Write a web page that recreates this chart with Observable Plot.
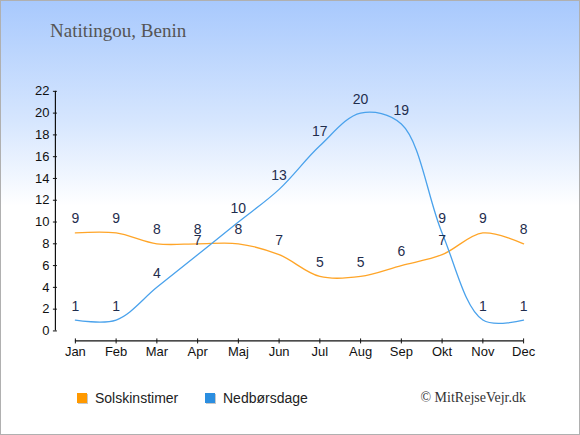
<!DOCTYPE html>
<html>
<head>
<meta charset="utf-8">
<script src="https://cdn.jsdelivr.net/npm/d3@7"></script>
<script src="https://cdn.jsdelivr.net/npm/@observablehq/plot@0.6"></script>
<style>
  html, body { margin: 0; padding: 0; background: #fff; }
  #wrap {
    position: relative; width: 580px; height: 435px; box-sizing: border-box;
    border: 1px solid #b0b0b0; overflow: hidden;
    background: linear-gradient(to bottom, #a8c9fd 0px, #d6e6fe 120px, #ffffff 205px, #ffffff 435px);
    font-family: "Liberation Sans", Arial, sans-serif;
  }
  #chart { position: absolute; left: -1px; top: -1px; }
  #title {
    position: absolute; left: 49px; top: 20px; font-family: "Liberation Serif", "DejaVu Serif", serif;
    font-size: 19px; line-height: 19px; color: #555;
  }
  .leg { position: absolute; top: 389px; font-size: 14px; color: #222; display: flex; align-items: center; }
  .sw { width: 10px; height: 10px; margin-right: 8px; box-shadow: 1px 1px 0 #c8c8c8; }
  #copy {
    position: absolute; right: 53px; top: 389px; font-family: "Liberation Serif", "DejaVu Serif", serif;
    font-size: 14px; color: #333;
  }
</style>
</head>
<body>
<div id="wrap">
  <div id="chart"></div>
  <div id="title">Natitingou, Benin</div>
  <div class="leg" style="left:76px"><span class="sw" style="background:#ff9900"></span>Solskinstimer</div>
  <div class="leg" style="left:204px"><span class="sw" style="background:#2b8ee0"></span>Nedbørsdage</div>
  <div id="copy">© MitRejseVejr.dk</div>
</div>
<script>
const months = ["Jan","Feb","Mar","Apr","Maj","Jun","Jul","Aug","Sep","Okt","Nov","Dec"];
const solskinstimer = [9, 9, 8, 8, 8, 7, 5, 5, 6, 7, 9, 8];
const nedboersdage = [1, 1, 4, 7, 10, 13, 17, 20, 19, 9, 1, 1];
const yTicks = [0, 2, 4, 6, 8, 10, 12, 14, 16, 18, 20, 22];

const sun = months.map((m, i) => ({month: m, value: solskinstimer[i]}));
const rain = months.map((m, i) => ({month: m, value: nedboersdage[i]}));

const orange = "#ffa528";
const blue = "#4aa2ec";
const labelColor = "#1f2d4d";

const chart = Plot.plot({
  width: 580,
  height: 435,
  marginTop: 91,
  marginBottom: 104,
  marginLeft: 75,
  marginRight: 56,
  style: {background: "transparent", fontFamily: "Liberation Sans, Arial, sans-serif", fontSize: "13px", color: "#111"},
  x: {type: "point", domain: months, padding: 0, round: false, label: null},
  y: {domain: [0, 22], label: null},
  marks: [
    Plot.ruleX([months[0]], {x: d => d, y1: 0, y2: 22, dx: -20, stroke: "#111", strokeWidth: 1.2}),
    Plot.ruleY([0], {y: d => d, x1: () => months[0], x2: () => months[11], dy: 10, stroke: "#111", strokeWidth: 1.2}),
    Plot.axisY({ticks: yTicks, tickSize: 4, dx: -18, tickPadding: 4, tickFormat: d => d, label: null, stroke: "#111", fill: "#111", fontSize: 13}),
    Plot.axisX({tickSize: 5, dy: 8, tickPadding: 3, label: null, stroke: "#111", fill: "#111", fontSize: 13}),
    Plot.line(sun, {x: "month", y: "value", stroke: orange, strokeWidth: 1.3, curve: "catmull-rom"}),
    Plot.line(rain, {x: "month", y: "value", stroke: blue, strokeWidth: 1.3, curve: "catmull-rom"}),
    Plot.text(sun, {x: "month", y: "value", text: d => String(d.value), dy: -14, fill: labelColor, fontSize: 14}),
    Plot.text(rain, {x: "month", y: "value", text: d => String(d.value), dy: -14, fill: labelColor, fontSize: 14})
  ]
});
document.getElementById("chart").appendChild(chart);
</script>
</body>
</html>
